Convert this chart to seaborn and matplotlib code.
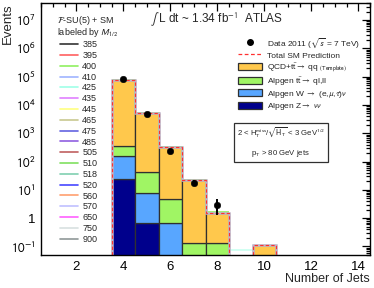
import numpy as np
import pandas as pd
import matplotlib
matplotlib.use("Agg")
import matplotlib.pyplot as plt
import seaborn as sns
from matplotlib.lines import Line2D
from matplotlib.patches import Patch
from matplotlib.ticker import MultipleLocator, LogLocator, FuncFormatter, NullFormatter

# values (events per jet multiplicity bin)
njets = [4, 5, 6, 7, 8, 10]
qcd = [75600, 5040, 315, 22.2, 1.36, 0.113]
ttbar = [199, 33.9, 3.94, 0.13, 0.13, 0]
wjets = [133, 7.2, 0.66, 0, 0, 0]
zjets = [23.7, 0.69, 0, 0, 0, 0]

data_x = [4, 5, 6, 7, 8]
data_y = [83000, 4700, 240, 18, 3]
data_err = [288, 69, 15.5, 4.2, 1.7]

# a couple of signal curves that peek out above the SM total
sig400_x = [4, 5, 6, 7, 8]
sig400 = [76200, 5100, 322, 22.6, 1.6]
sig425_x = [9]
sig425 = [0.075]

masses = ["385", "395", "400", "410", "425", "435", "445", "465", "475", "485",
          "505", "510", "518", "520", "560", "570", "650", "750", "900"]
mass_colors = ["#333333", "#ff6060", "#90f060", "#a0b4ff", "#a0ffe8", "#e080ff",
               "#ffff80", "#c8c890", "#6464e0", "#9060e0", "#c06060", "#80e060",
               "#80d0b0", "#4848ff", "#ffa070", "#c0c0ff", "#ff60ff", "#d8e0e0",
               "#909898"]

procs = ["QCD+tt -> qq", "Alpgen tt -> ql,ll", "Alpgen W", "Alpgen Z"]
proc_colors = ["#ffc84c", "#a0f564", "#58a6ff", "#00008c"]
proc_labels = [r"QCD+t$\bar{\rm t}$$\rightarrow$ qq $_{\rm (Template)}$",
               r"Alpgen t$\bar{\rm t}$$\rightarrow$ ql,ll",
               r"Alpgen W $\rightarrow$ (e,$\mu$,$\tau$)$\nu$",
               r"Alpgen Z$\rightarrow$ $\nu\nu$"]

YMIN, YMAX = 0.05, 4e7

rows = []
for p, vals in zip(procs, [qcd, ttbar, wjets, zjets]):
    for n, v in zip(njets, vals):
        rows.append({"njets": n, "process": p, "events": v})
df = pd.DataFrame(rows)

sns.set_style("white")
plt.rcParams["font.family"] = ["Liberation Sans", "DejaVu Sans"]
plt.rcParams["mathtext.fontset"] = "stixsans"

fig = plt.figure(figsize=(3.74, 2.88), dpi=100)
ax = fig.add_axes([41 / 374, 33 / 288, 329 / 374, 252 / 288])

sns.histplot(data=df, x="njets", weights="events", hue="process", hue_order=procs,
             palette=proc_colors, multiple="stack", discrete=True, alpha=1,
             edgecolor="#303030", linewidth=0.9, legend=False, ax=ax)
ax.set_yscale("log")

# signal curves
ax.stairs(sig400, np.array(sig400_x + [sig400_x[-1] + 1]) - 0.5, baseline=None,
          color="#90f060", lw=1.2)
ax.stairs(sig425, np.array(sig425_x + [sig425_x[-1] + 1]) - 0.5, baseline=None,
          color="#c8fff0", lw=1.2)

# total SM prediction outline
total = np.array(qcd) + np.array(ttbar) + np.array(wjets) + np.array(zjets)
seg_a = total[:5]
edges_a = np.arange(3.5, 9.0, 1.0)
seg_b = total[5:]
edges_b = np.array([9.5, 10.5])
for vals, edges in [(seg_a, edges_a), (seg_b, edges_b)]:
    ax.stairs(vals, edges, baseline=YMIN, color="#c0b4c8", lw=1.8)
    ax.stairs(vals, edges, baseline=YMIN, color="#ff3030", lw=0.8, ls=(0, (3, 2)))

# data
ax.errorbar(data_x, data_y, yerr=data_err, fmt="none", ecolor="black", elinewidth=1.4)
sns.scatterplot(x=data_x, y=data_y, color="black", s=22, edgecolor="black", ax=ax, zorder=5)

ax.set_xlim(0.5, 14.5)
ax.set_ylim(YMIN, YMAX)
ax.xaxis.set_major_locator(MultipleLocator(2))
ax.xaxis.set_minor_locator(MultipleLocator(0.5))
ax.yaxis.set_major_locator(LogLocator(base=10, numticks=20))
ax.yaxis.set_minor_locator(LogLocator(base=10, subs=np.arange(2, 10), numticks=20))
ax.yaxis.set_minor_formatter(NullFormatter())


def ylab(v, pos):
    e = int(round(np.log10(v)))
    if e == 0:
        return "1"
    return r"$10^{%d}$" % e


ax.yaxis.set_major_formatter(FuncFormatter(ylab))
ax.tick_params(which="both", direction="in", top=True, right=True, labelsize=9.5,
               colors="black", width=0.9)
ax.tick_params(which="major", length=6, pad=4)
ax.tick_params(which="minor", length=3)
for s in ax.spines.values():
    s.set_color("black")
    s.set_linewidth(1.0)

ax.set_xlabel("Number of Jets", loc="right", fontsize=9)
ax.set_ylabel("Events", loc="top", fontsize=9.5)
ax.xaxis.set_label_coords(1.0, -0.072)
ax.yaxis.set_label_coords(-0.082, 1.0)

# left legend: signal masses
ax.text(0.049, 0.9325, "$\\mathcal{F}$-SU(5) + SM", transform=ax.transAxes,
        fontsize=6.5, ha="left", va="center")
ax.text(0.049, 0.881, "labeled by $M_{1/2}$", transform=ax.transAxes,
        fontsize=6.5, ha="left", va="center")
mass_handles = [Line2D([], [], color=c, lw=1.2) for c in mass_colors]
leg1 = ax.legend(mass_handles, masses, loc="upper left", bbox_to_anchor=(0.043, 0.87),
                 frameon=False, fontsize=6.5, borderpad=0, labelspacing=0.2,
                 handlelength=2.0, handletextpad=0.5)
ax.add_artist(leg1)

# right legend: data and SM backgrounds
sm_handles = [Line2D([], [], marker="o", color="black", ls="none", ms=4),
              Line2D([], [], color="#ff3030", lw=0.9, ls=(0, (3, 2)))]
sm_handles += [Patch(facecolor=c, edgecolor="#303030", lw=0.9) for c in proc_colors]
sm_labels = [r"Data 2011 ($\sqrt{s}$ = 7 TeV)", "Total SM Prediction"] + proc_labels
ax.legend(sm_handles, sm_labels, loc="upper left", bbox_to_anchor=(0.585, 0.885),
          frameon=False, fontsize=6.0, borderpad=0, labelspacing=0.15,
          handlelength=2.9, handleheight=0.95, handletextpad=0.6)

ax.text(0.331, 0.933, r"$\int$ L dt ~ 1.34 fb$^{-1}$  ATLAS", transform=ax.transAxes,
        fontsize=8.5, va="center", ha="left")

ax.text(0.729, 0.446,
        "2 < H$_{\\rm T}^{\\rm miss}$/$\\sqrt{\\rm H_T}$ < 3 GeV$^{1/2}$\np$_{\\rm T}$ > 80 GeV jets",
        transform=ax.transAxes, fontsize=5.6, ha="center", va="center", linespacing=2.3,
        bbox=dict(boxstyle="square,pad=0.35", facecolor="white", edgecolor="#303030", lw=0.9))

fig.savefig("out.png", dpi=100)
